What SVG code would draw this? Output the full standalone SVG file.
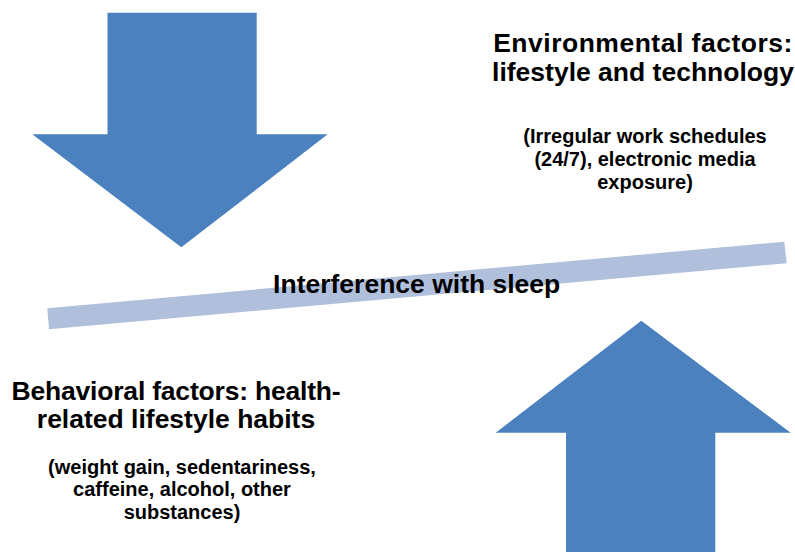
<svg xmlns="http://www.w3.org/2000/svg" width="795" height="552" viewBox="0 0 795 552">
<style>
.arrow{fill:#4A81BE;}
.bar{fill:#B0C0DC;}
text{font-family:"Liberation Sans",Arial,sans-serif;font-weight:bold;fill:#000;text-anchor:middle;}
.h{font-size:26.5px;}
.s{font-size:20px;}
</style>
<rect width="795" height="552" fill="#fff"/>
<g id="down-arrow">
<polygon class="arrow" points="107.5,12.7 256.7,12.7 256.7,134.3 327.7,134.3 181.3,247.3 32.3,134.3 107.5,134.3"/>
</g>
<g id="up-arrow">
<polygon class="arrow" points="641.3,320.7 790.7,432.7 715.3,432.7 715.3,552 566,552 566,432.7 495.7,432.7"/>
</g>
<g id="balance-bar">
<polygon class="bar" points="47.3,308.3 784.3,241.7 786.7,263.3 49,329.3"/>
<text class="h" x="416.7" y="293.3">Interference with sleep</text>
</g>
<g id="environmental">
<text class="h" x="643" y="52" letter-spacing="0.5">Environmental factors:</text>
<text class="h" x="643" y="81">lifestyle and technology</text>
<text class="s" x="645" y="143">(Irregular work schedules</text>
<text class="s" x="645" y="166">(24/7), electronic media</text>
<text class="s" x="645" y="189">exposure)</text>
</g>
<g id="behavioral">
<text class="h" x="176" y="400" letter-spacing="-0.2">Behavioral factors: health-</text>
<text class="h" x="176" y="428">related lifestyle habits</text>
<text class="s" x="182" y="473.5">(weight gain, sedentariness,</text>
<text class="s" x="182" y="496">caffeine, alcohol, other</text>
<text class="s" x="182" y="518.5">substances)</text>
</g>
</svg>
